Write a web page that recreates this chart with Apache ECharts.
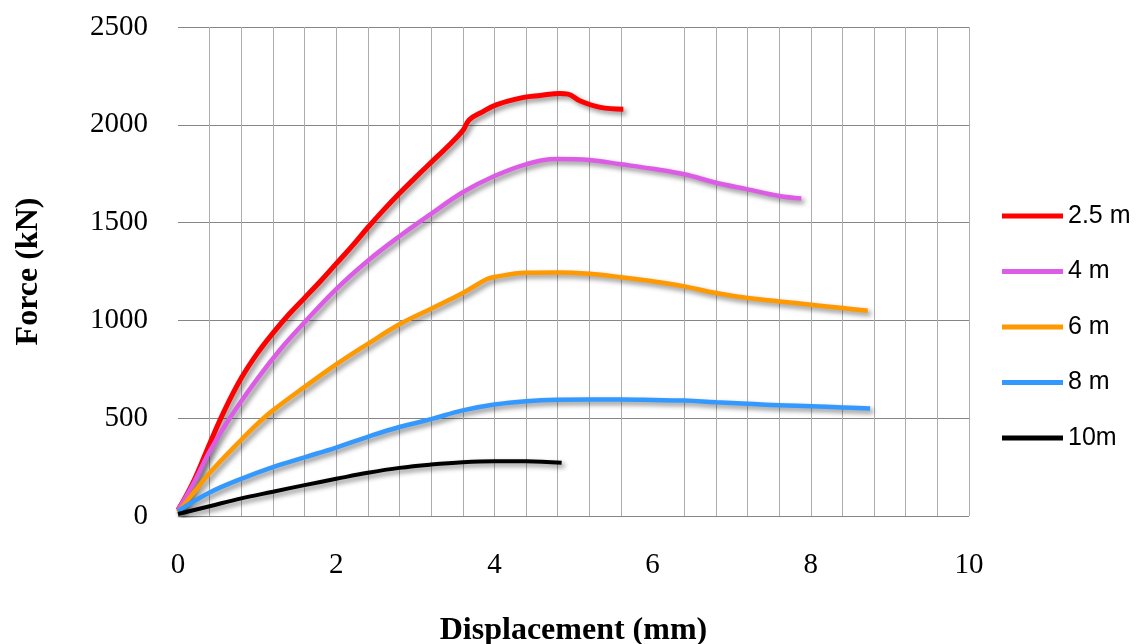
<!DOCTYPE html>
<html>
<head>
<meta charset="utf-8">
<script src="https://cdn.jsdelivr.net/npm/echarts@6/dist/echarts.min.js"></script>
<style>
  html, body { margin: 0; padding: 0; background: #fff; }
  #chart { width: 1137px; height: 644px; }
</style>
</head>
<body>
<div id="chart"></div>
<script>
// series names (legend)
const names = ['2.5 m', '4 m', '6 m', '8 m', '10m']
const colors = ['#ff0000', '#dc5ce6', '#ff9900', '#3399ff', '#000000']
const widths = [5, 4.5, 4.5, 4.5, 4]

// [displacement (mm), force (kN)]
const d25 = [[0, 30], [0.2, 180], [0.4, 370], [0.6, 550], [0.8, 705], [1.0, 830], [1.2, 935], [1.4, 1030], [1.6, 1115], [1.8, 1200], [2.0, 1290], [2.2, 1380], [2.4, 1475], [2.6, 1565], [2.8, 1650], [3.0, 1730], [3.2, 1808], [3.4, 1885], [3.6, 1970], [3.68, 2025], [3.82, 2060], [4.03, 2103], [4.37, 2140], [4.58, 2150], [4.83, 2160], [4.93, 2157], [5.08, 2123], [5.34, 2089], [5.63, 2080]]
const d4 = [[0, 30], [0.2, 170], [0.4, 330], [0.67, 510], [1.0, 700], [1.3, 855], [1.6, 990], [2.0, 1160], [2.4, 1305], [2.8, 1430], [3.2, 1545], [3.6, 1655], [4.0, 1738], [4.4, 1798], [4.8, 1825], [5.2, 1820], [5.6, 1798], [6.0, 1775], [6.4, 1747], [6.8, 1704], [7.2, 1670], [7.6, 1636], [7.88, 1623]]
const d6 = [[0, 20], [0.2, 120], [0.4, 220], [0.8, 390], [1.0, 470], [1.2, 540], [1.6, 660], [2.0, 775], [2.4, 880], [2.8, 980], [3.2, 1060], [3.6, 1140], [3.9, 1210], [4.0, 1222], [4.4, 1243], [4.8, 1245], [5.2, 1238], [5.6, 1221], [6.0, 1200], [6.4, 1174], [6.8, 1140], [7.2, 1114], [7.6, 1097], [8.0, 1080], [8.4, 1063], [8.72, 1049]]
const d8 = [[0, 25], [0.4, 120], [0.8, 190], [1.2, 250], [1.6, 300], [2.0, 350], [2.4, 405], [2.8, 455], [3.2, 495], [3.6, 540], [4.0, 570], [4.4, 587], [4.8, 594], [5.2, 595], [5.6, 595], [6.0, 593], [6.4, 590], [6.8, 581], [7.2, 574], [7.6, 566], [8.0, 561], [8.4, 555], [8.75, 549]]
const d10 = [[0, 10], [0.4, 50], [0.8, 90], [1.2, 124], [1.6, 158], [2.0, 190], [2.4, 221], [2.8, 246], [3.2, 263], [3.6, 275], [4.0, 280], [4.4, 280], [4.85, 272]]
const allData = [d25, d4, d6, d8, d10]

const serif = '"Liberation Serif", "DejaVu Serif", serif'

const chart = echarts.init(document.getElementById('chart'))
chart.setOption({
  animation: false,
  backgroundColor: '#fff',
  grid: { left: 178, right: 168, top: 27, bottom: 128, containLabel: false, outerBoundsMode: 'none' },
  legend: {
    orient: 'vertical',
    left: 997,
    top: 197,
    itemWidth: 61,
    itemHeight: 5,
    itemGap: 27.5,
    icon: 'rect',
    data: names,
    textStyle: { fontFamily: '"Liberation Sans", Arial, sans-serif', fontSize: 25, color: '#000', lineHeight: 28 }
  },
  xAxis: {
    type: 'value',
    min: 0,
    max: 10,
    interval: 2,
    name: 'Displacement (mm)',
    nameLocation: 'middle',
    nameGap: 99,
    nameTextStyle: { fontFamily: serif, fontWeight: 'bold', fontSize: 32, color: '#000' },
    axisLine: { show: false },
    axisTick: { show: false },
    axisLabel: { margin: 35, fontFamily: serif, fontSize: 29, color: '#000' },
    splitLine: {
      show: true,
      lineStyle: { color: ['transparent', '#adadad', '#adadad', 'transparent', '#adadad', '#adadad'], width: 1 }
    },
    minorTick: { show: false, splitNumber: 5 },
    minorSplitLine: { show: true, lineStyle: { color: '#adadad', width: 1 } }
  },
  yAxis: {
    type: 'value',
    min: 0,
    max: 2500,
    interval: 500,
    name: 'Force (kN)',
    nameLocation: 'middle',
    nameGap: 133,
    nameTextStyle: { fontFamily: serif, fontWeight: 'bold', fontSize: 32, color: '#000' },
    axisLine: { show: false },
    axisTick: { show: false },
    axisLabel: { margin: 30, fontFamily: serif, fontSize: 29, color: '#000', formatter: v => String(v) },
    splitLine: { show: true, lineStyle: { color: '#868686', width: 1.2 } }
  },
  series: names.map((n, i) => ({
    name: n,
    type: 'line',
    data: allData[i],
    smooth: 0.4,
    symbol: 'none',
    itemStyle: { color: colors[i] },
    lineStyle: {
      color: colors[i],
      width: widths[i],
      shadowColor: 'rgba(0,0,0,0.45)',
      shadowBlur: 5,
      shadowOffsetX: 3,
      shadowOffsetY: 3
    }
  }))
})
</script>
</body>
</html>
